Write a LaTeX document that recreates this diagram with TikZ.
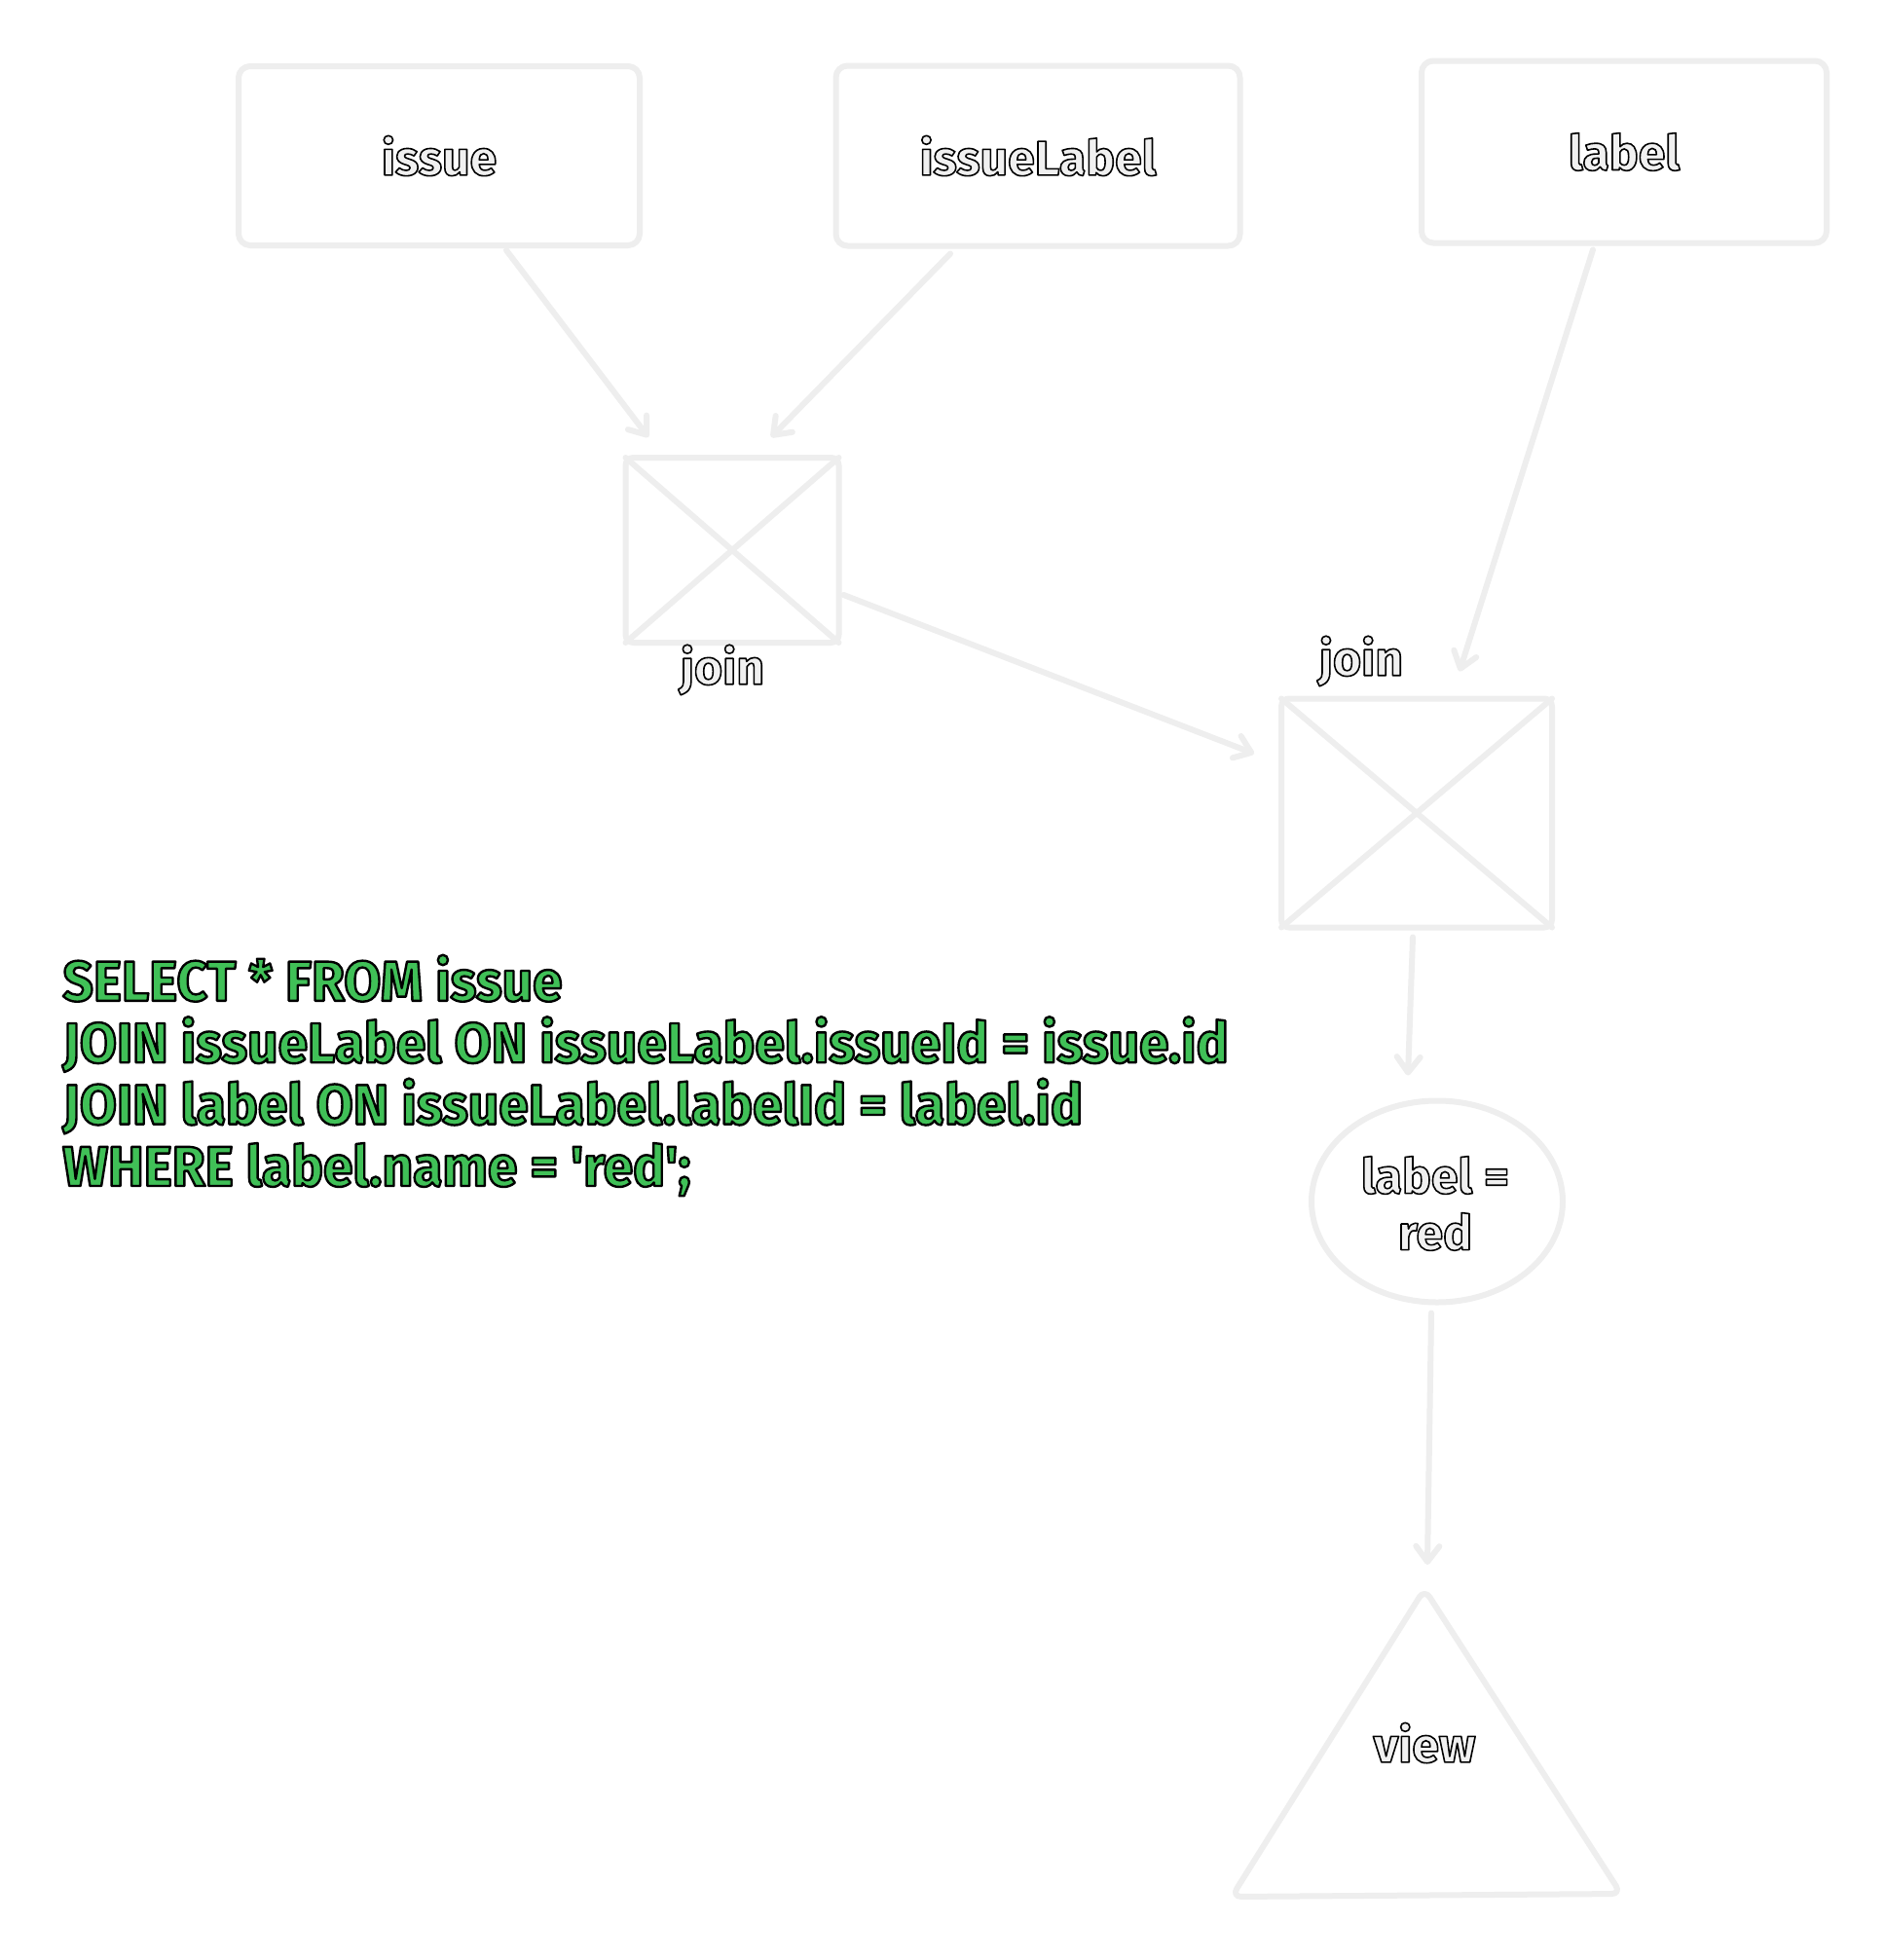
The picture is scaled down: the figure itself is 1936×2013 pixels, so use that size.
\documentclass[tikz,border=0pt]{standalone}
\usepackage{fontspec}
\setmainfont{Fira Sans}
\newfontfamily\sqlfont[FakeStretch=0.95]{Fira Sans}
\newfontfamily\lblfont{Fira Sans}
\usetikzlibrary{arrows.meta,shapes.geometric,calc}
\definecolor{linegray}{RGB}{238,238,238}
\definecolor{textgray}{RGB}{240,240,240}
\definecolor{sqlgreen}{HTML}{40C057}
\newcommand\outlinedtext[3]{{\color{#1}\special{pdf:code 0 0 0 RG #2 w 1 j 2 Tr}#3\special{pdf:code 0 Tr}}}
\tikzset{
  shapeline/.style={draw=linegray, line width=3pt, line join=round, line cap=round},
  tablebox/.style={shapeline, rectangle, rounded corners=6pt, inner sep=0pt},
  joinbox/.style={shapeline, rectangle, rounded corners=4pt, inner sep=0pt},
  lbl/.style={font=\lblfont\bfseries\fontsize{25}{30}\selectfont, inner sep=0pt},
  conn/.style={draw=linegray, line width=3pt, line cap=round,
    -{Straight Barb[length=8pt,width=12pt,line width=3pt,round]}},
}
\begin{document}
\begin{tikzpicture}[x=0.5pt,y=-0.5pt]
\useasboundingbox[fill=white] (0,0) rectangle (1936,2013);

% table boxes
\node[tablebox, minimum width=206pt, minimum height=92pt] (issue) at (451,160) {};
\node[lbl] (issuet) at (451,160) {\outlinedtext{textgray}{0.8}{issue}};
\node[tablebox, minimum width=207.5pt, minimum height=92.5pt] (il) at (1066,160) {};
\node[lbl] (ilt) at (1066,160) {\outlinedtext{textgray}{0.8}{issueLabel}};
\node[tablebox, minimum width=208pt, minimum height=93.5pt] (lab) at (1668,156) {};
\node[lbl] (labt) at (1668,156) {\outlinedtext{textgray}{0.8}{label}};

% join 1
\node[joinbox, minimum width=109.5pt, minimum height=95pt] (j1) at (752,565) {};
\draw[shapeline] ($(j1.north west)+(3,3)$) -- ($(j1.south east)+(-3,-3)$)
                 ($(j1.north east)+(-3,3)$) -- ($(j1.south west)+(3,-3)$);
\node[lbl] (j1t) at (742,688) {\outlinedtext{textgray}{0.8}{join}};

% join 2
\node[joinbox, minimum width=139pt, minimum height=117.5pt] (j2) at (1455,835) {};
\draw[shapeline] ($(j2.north west)+(3,3)$) -- ($(j2.south east)+(-3,-3)$)
                 ($(j2.north east)+(-3,3)$) -- ($(j2.south west)+(3,-3)$);
\node[lbl] (j2t) at (1398,679) {\outlinedtext{textgray}{0.8}{join}};

% filter ellipse
\node[shapeline, ellipse, inner sep=0pt, minimum width=129pt, minimum height=103.5pt] (ell) at (1476,1234) {};
\node[lbl, align=center] (ellt) at (1474,1236) {\outlinedtext{textgray}{0.8}{label =}\\[-1pt]\outlinedtext{textgray}{0.8}{red}};

% view triangle
\coordinate (apex) at (1463,1632);
\coordinate (tbl) at (1265,1948);
\coordinate (tbr) at (1665,1945);
\draw[shapeline, rounded corners=5pt] (apex) -- (tbr) -- (tbl) -- cycle;
\node[lbl] (viewt) at (1463,1790) {\outlinedtext{textgray}{0.8}{view}};

% connectors
\draw[conn] ($(issue.south)+(69,2)$) -- ($(j1.north)+(-86,-18)$);
\draw[conn] ($(il.south)+(-90,5)$) -- ($(j1.north)+(40,-18)$);
\draw[conn] ($(lab.south)+(-32,4)$) -- ($(j2.north)+(44,-25)$);
\draw[conn] ($(j1.east)+(2,46)$) -- ($(j2.west)+(-25,-61)$);
\draw[conn] ($(j2.south)+(-4,7)$) -- ($(ell.north)+(-30,-23)$);
\draw[conn] ($(ell.south)+(-6,8)$) -- ($(apex)+(3,-25)$);

% SQL text
\node[anchor=base west, align=left, inner sep=0pt,
  font=\sqlfont\bfseries\fontsize{29}{31.7}\selectfont] (sql) at (64,1218)
  {\outlinedtext{sqlgreen}{1.2}{SELECT * FROM issue}\\
   \outlinedtext{sqlgreen}{1.2}{JOIN issueLabel ON issueLabel.issueId = issue.id}\\
   \outlinedtext{sqlgreen}{1.2}{JOIN label ON issueLabel.labelId = label.id}\\
   \outlinedtext{sqlgreen}{1.2}{WHERE label.name = 'red';}};
\end{tikzpicture}
\end{document}
